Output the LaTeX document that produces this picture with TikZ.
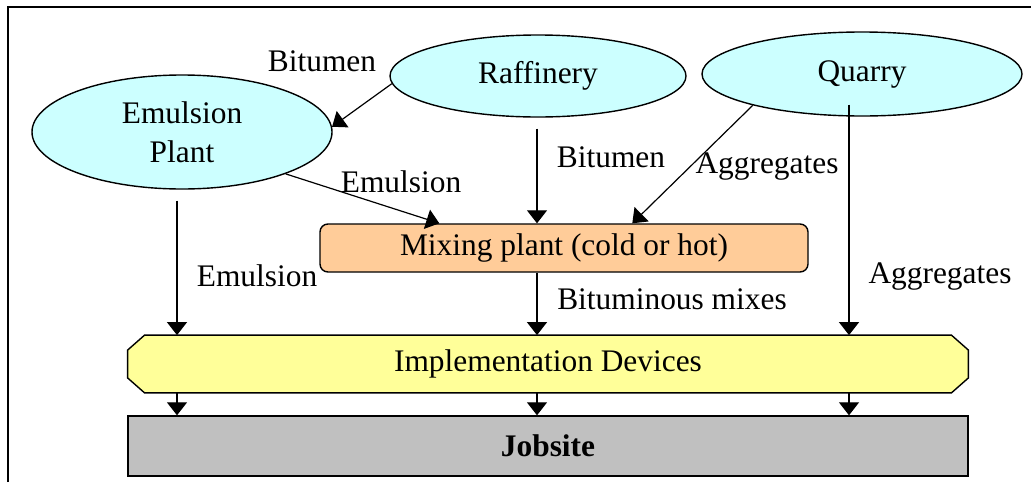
\documentclass[tikz,border=0pt]{standalone}
\usepackage{fontspec}
\setmainfont{Liberation Serif}
\usetikzlibrary{shapes.geometric}
\usetikzlibrary{arrows.meta}
\usetikzlibrary{calc}

\definecolor{srcblue}{HTML}{CCFFFF}
\definecolor{mixorange}{HTML}{FFCC99}
\definecolor{devyellow}{HTML}{FFFF99}
\definecolor{sitegray}{HTML}{C0C0C0}

\begin{document}
\begin{tikzpicture}[x=0.5pt, y=-0.5pt,
  every node/.style={font=\fontsize{15.7}{18}\selectfont},
  source/.style={ellipse, draw, line width=0.7pt, fill=srcblue, inner sep=0pt, align=center},
  flow/.style={line width=0.6pt, -{Triangle[length=6.5pt, width=10pt]}},
  ]
  \useasboundingbox (0,0) rectangle (1031,482);
  \draw [line width=1pt] (8,482) -- (8,7) -- (1031,7);

  % sources
  \node [source, minimum width=150pt, minimum height=57pt, font=\fontsize{15.7}{19.5}\selectfont] (emul) at (182,132) {Emulsion\\Plant};
  \node [source, minimum width=148pt, minimum height=41pt] (raff) at (538,76) {Raffinery};
  \node [source, minimum width=160pt, minimum height=42pt] (quar) at (862,74) {Quarry};

  % plants and devices
  \node [draw, line width=0.7pt, fill=mixorange, rounded corners=4pt, minimum width=244pt, minimum height=24pt, inner sep=0pt] (mix) at (564,248) {Mixing plant (cold or hot)};
  \node [minimum width=420pt, minimum height=28.5pt, inner sep=0pt] (impl) at (548,364) {};
  \draw [line width=0.7pt, fill=devyellow]
    ([xshift=8.5pt]impl.north west) -- ([xshift=-8.5pt]impl.north east)
    -- ([yshift=-7.5pt]impl.north east) -- ([yshift=7.5pt]impl.south east)
    -- ([xshift=-8.5pt]impl.south east) -- ([xshift=8.5pt]impl.south west)
    -- ([yshift=7.5pt]impl.south west) -- ([yshift=-7.5pt]impl.north west) -- cycle;
  \node at (impl) {Implementation Devices};
  \node [draw, line width=0.7pt, fill=sitegray, minimum width=420pt, minimum height=30pt, inner sep=0pt, font=\fontsize{15.7}{18}\selectfont\bfseries] (job) at (548,446) {Jobsite};

  % columns of the vertical flows
  \coordinate (colE) at (177,0);
  \coordinate (colB) at (537,0);
  \coordinate (colA) at (849,0);
  \coordinate (topE) at ($(emul.south)+(0,11)$);
  \coordinate (topB) at ($(raff.south)+(0,11)$);
  \coordinate (topA) at ($(quar.south)+(0,-12)$);

  \draw [flow] (raff.183) -- (emul.2);
  \draw [flow] (emul.-22) -- ([xshift=60pt]mix.north west);
  \draw [flow] (topB -| colB) -- (mix.north -| colB);
  \draw [flow] (quar.196) -- ([xshift=156.5pt]mix.north west);
  \draw [flow] (topE -| colE) -- (impl.north -| colE);
  \draw [flow] (mix.south -| colB) -- (impl.north -| colB);
  \draw [flow] (topA -| colA) -- (impl.north -| colA);
  \foreach \c in {colE, colB, colA}
    \draw [flow] (impl.south -| \c) -- (job.north -| \c);

  % labels
  \node (lbBitA) at (322,61) {Bitumen};
  \node (lbEmuA) at (401,182) {Emulsion};
  \node (lbBitB) at (611,157) {Bitumen};
  \node (lbAggA) at (767,167) {Aggregates};
  \node (lbEmuB) at (257,276) {Emulsion};
  \node (lbMix) at (672,299) {Bituminous mixes};
  \node (lbAggB) at (940,277) {Aggregates};
\end{tikzpicture}
\end{document}
